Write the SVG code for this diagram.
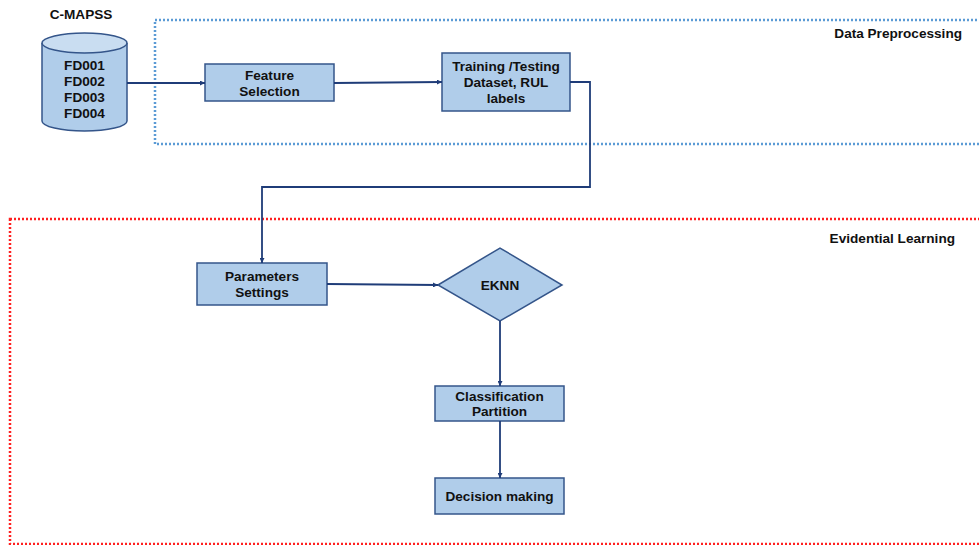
<svg xmlns="http://www.w3.org/2000/svg" width="979" height="545" viewBox="0 0 979 545">
<style>
text{font-family:"Liberation Sans",Arial,sans-serif;font-weight:bold;font-size:13.6px;fill:#111;text-anchor:middle}
.box{fill:#b0cdea;stroke:#34558a;stroke-width:1.5}
.conn{fill:none;stroke:#1f3c78;stroke-width:1.8}
.lbl{text-anchor:end}
</style>
<defs>
<marker id="arr" viewBox="0 0 10 10" refX="10" refY="5" markerWidth="5" markerHeight="5" orient="auto" markerUnits="userSpaceOnUse">
<path d="M0,0 L10,5 L0,10 z" fill="#1f3c78"/>
</marker>
</defs>
<g id="data-preprocessing">
<rect x="155" y="20" width="840" height="124" fill="none" stroke="#5b9bd5" stroke-width="2.5" stroke-dasharray="2,2"/>
<text class="lbl" x="962" y="38">Data Preprocessing</text>
</g>
<g id="evidential-learning">
<rect x="10" y="219" width="990" height="325" fill="none" stroke="#ff2020" stroke-width="2.5" stroke-dasharray="2,2"/>
<text class="lbl" x="955" y="243">Evidential Learning</text>
</g>
<g id="cmapss">
<text x="81" y="19">C-MAPSS</text>
<path d="M42,43 L42,121 A42.5,10 0 0 0 127,121 L127,43" fill="#b0cdea" stroke="#34558a" stroke-width="1.5"/>
<ellipse cx="84.5" cy="43" rx="42.5" ry="10" fill="#c9ddf1" stroke="#34558a" stroke-width="1.5"/>
<text x="84.5" y="70">FD001</text>
<text x="84.5" y="86">FD002</text>
<text x="84.5" y="102">FD003</text>
<text x="84.5" y="118">FD004</text>
</g>
<g id="feature-selection">
<rect class="box" x="205" y="64" width="129" height="37"/>
<text x="269.5" y="80">Feature</text>
<text x="269.5" y="96">Selection</text>
</g>
<g id="training">
<rect class="box" x="442" y="53" width="128" height="58"/>
<text x="506" y="71">Training /Testing</text>
<text x="506" y="87">Dataset, RUL</text>
<text x="506" y="103">labels</text>
</g>
<g id="parameters">
<rect class="box" x="197" y="263" width="130" height="42"/>
<text x="262" y="281">Parameters</text>
<text x="262" y="297">Settings</text>
</g>
<g id="eknn">
<polygon class="box" points="438,285 500,248 562,285 500,321"/>
<text x="500" y="290">EKNN</text>
</g>
<g id="classification">
<rect class="box" x="435" y="386" width="129" height="35"/>
<text x="499.5" y="401">Classification</text>
<text x="499.5" y="416">Partition</text>
</g>
<g id="decision">
<rect class="box" x="435" y="478" width="129" height="36"/>
<text x="499.5" y="501">Decision making</text>
</g>
<g id="connectors">
<path class="conn" d="M127,83 L205,83" marker-end="url(#arr)"/>
<path class="conn" d="M334,83 L442,82" marker-end="url(#arr)"/>
<path class="conn" d="M570,82 L590,82 L590,187 L262,187 L262,263" marker-end="url(#arr)"/>
<path class="conn" d="M327,284 L438,285" marker-end="url(#arr)"/>
<path class="conn" d="M500,321 L500,386" marker-end="url(#arr)"/>
<path class="conn" d="M500,421 L500,478" marker-end="url(#arr)"/>
</g>
</svg>
